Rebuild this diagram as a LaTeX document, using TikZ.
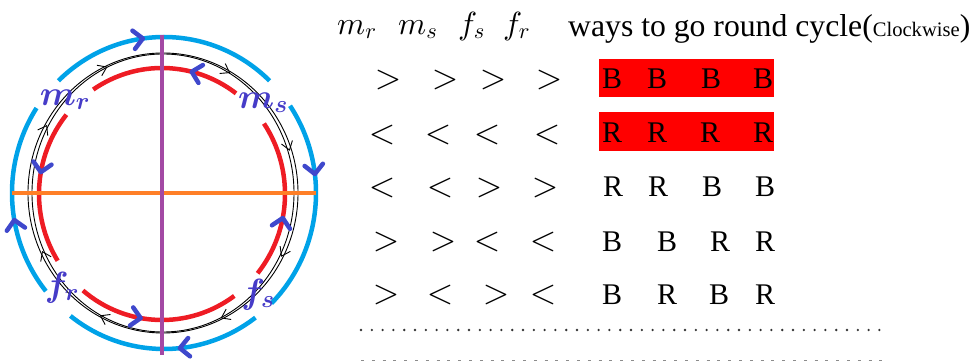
\documentclass[tikz,border=0pt]{standalone}
\usepackage{fontspec}
\setmainfont{Liberation Serif}
\DeclareFontShape{OML}{cmm}{m}{it}{<->cmmi10}{}
\DeclareFontShape{OML}{cmm}{b}{it}{<->cmmib10}{}
\DeclareFontShape{OT1}{cmr}{m}{n}{<->cmr10}{}
\usetikzlibrary{calc}
\definecolor{arcred}{HTML}{EE1C24}
\definecolor{arcblue}{HTML}{00A2E8}
\definecolor{chev}{HTML}{3F48CC}
\definecolor{purp}{HTML}{A349A4}
\definecolor{orng}{HTML}{FF7F27}
\definecolor{lbl}{RGB}{70,60,200}
\definecolor{boxred}{HTML}{FF0000}
\tikzset{
  redarc/.style={draw=arcred,line width=4.5pt},
  bluearc/.style={draw=arcblue,line width=4.5pt},
  blackline/.style={draw=black,line width=0.9pt},
  blackarr/.style={draw=black,line width=0.9pt},
  chevron/.style={draw=chev,line width=4.5pt,line cap=round,line join=round},
  circlbl/.style={text=lbl,inner sep=0pt,font=\fontsize{35}{35}\selectfont\boldmath},
  headm/.style={anchor=base west,inner sep=0pt,font=\fontsize{32}{32}\selectfont},
  cmp/.style={anchor=center,inner sep=0pt,font=\fontsize{34}{34}\selectfont},
  letter/.style={anchor=base,inner sep=0pt,font=\fontsize{30}{30}\selectfont},
  redbox/.style={fill=boxred,draw=none}
}
\begin{document}
\begin{tikzpicture}[x=1pt,y=1pt]
\useasboundingbox (0,0) rectangle (974,361);
% centres
\coordinate (R) at (162,167);
\coordinate (Bc) at (164,168);
\coordinate (K) at (163,168);
% black double circle
\draw[blackline] (K) ellipse [x radius=135, y radius=140];
\draw[blackline] (K) ellipse [x radius=131, y radius=139];
% red arcs
\foreach \a/\b in {53/124, -39/34, 230/306, 141/212}
  \draw[redarc] ($(R)+(\a:123 and 126)$) arc[start angle=\a, end angle=\b, x radius=123, y radius=126];
% blue arcs
\foreach \a/\b in {46/134, 147/219, 232/307, -45/34}
  \draw[bluearc] ($(Bc)+(\a:152 and 156)$) arc[start angle=\a, end angle=\b, x radius=152, y radius=156];
% orange and purple axes
\coordinate (oL) at (12,168); \coordinate (oR) at (316,168);
\coordinate (pT) at (162,326); \coordinate (pB) at (162,6);
\draw[orng,line width=4pt] (oL) -- (oR);
\draw[purp,line width=4pt] (pT) -- (pB);
% black arrowheads (clockwise)
\foreach \t in {115,151,60,18,-27,-64,205,242}
  \draw[blackarr] ($(K)+(\t:133 and 139)$) +({\t+55}:10) -- +(0,0) -- +({\t+125}:10);
% blue chevrons (clockwise)
\foreach \p in {98,7,-84,190}
  \draw[chevron] ($(Bc)+(\p:152 and 156)$) +({\p+45}:13) -- +(0,0) -- +({\p+135}:13);
% red chevrons (counterclockwise)
\foreach \p in {76,-11,260,170}
  \draw[chevron] ($(R)+(\p:123 and 126)$) +({\p-45}:13) -- +(0,0) -- +({\p-135}:13);
% circle labels
\node[circlbl] (lmr) at (65,261) {$m_r$};
\node[circlbl] (lms) at (263,258) {$m_s$};
\node[circlbl] (lfs) at (258,66) {$f_s$};
\node[circlbl] (lfr) at (62,73) {$f_r$};
% header
\node[headm] (hmr) at (337,326) {$m_r$};
\node[headm] (hms) at (398,326) {$m_s$};
\node[headm] (hfs) at (458,326) {$f_s$};
\node[headm] (hfr) at (503,326) {$f_r$};
\node[anchor=base west,inner sep=0pt] (hways) at (568,324)
  {\fontsize{31.7}{32}\selectfont ways to go round cycle(\fontsize{20.6}{21}\selectfont Clockwise\fontsize{31.7}{32}\selectfont)};
% red boxes
\fill[redbox] (599,264) rectangle (774,302);
\fill[redbox] (599,210) rectangle (774,249);
% comparators
\node[cmp] (c11) at (388,281) {$>$};
\node[cmp] (c12) at (445,281) {$>$};
\node[cmp] (c13) at (493,281) {$>$};
\node[cmp] (c14) at (549,281) {$>$};
\node[cmp] (c21) at (382,226) {$<$};
\node[cmp] (c22) at (438,226) {$<$};
\node[cmp] (c23) at (487,226) {$<$};
\node[cmp] (c24) at (547,226) {$<$};
\node[cmp] (c31) at (382,173) {$<$};
\node[cmp] (c32) at (440,173) {$<$};
\node[cmp] (c33) at (489,173) {$>$};
\node[cmp] (c34) at (545,173) {$>$};
\node[cmp] (c41) at (386,119) {$>$};
\node[cmp] (c42) at (443,119) {$>$};
\node[cmp] (c43) at (487,119) {$<$};
\node[cmp] (c44) at (543,119) {$<$};
\node[cmp] (c51) at (386,66) {$>$};
\node[cmp] (c52) at (440,66) {$<$};
\node[cmp] (c53) at (496,66) {$>$};
\node[cmp] (c54) at (543,66) {$<$};
% letters
\node[letter] (l11) at (612,272) {B};
\node[letter] (l12) at (657,272) {B};
\node[letter] (l13) at (711,272) {B};
\node[letter] (l14) at (763,272) {B};
\node[letter] (l21) at (612,218) {R};
\node[letter] (l22) at (657,218) {R};
\node[letter] (l23) at (710,218) {R};
\node[letter] (l24) at (763,218) {R};
\node[letter] (l31) at (613,164) {R};
\node[letter] (l32) at (658,164) {R};
\node[letter] (l33) at (712,164) {B};
\node[letter] (l34) at (765,164) {B};
\node[letter] (l41) at (612,109) {B};
\node[letter] (l42) at (667,109) {B};
\node[letter] (l43) at (720,109) {R};
\node[letter] (l44) at (765,109) {R};
\node[letter] (l51) at (612,56) {B};
\node[letter] (l52) at (667,56) {R};
\node[letter] (l53) at (719,56) {B};
\node[letter] (l54) at (765,56) {R};
% dotted lines
\coordinate (d1a) at (361,31); \coordinate (d1b) at (884,31);
\draw[black!80,line width=2.6pt,line cap=round,dash pattern=on 0pt off 10.8pt] (d1a) -- (d1b);
\coordinate (d2a) at (361,0.6); \coordinate (d2b) at (884,0.6);
\draw[black!45,line width=1.3pt,dash pattern=on 3pt off 7.8pt] (d2a) -- (d2b);
\end{tikzpicture}
\end{document}
